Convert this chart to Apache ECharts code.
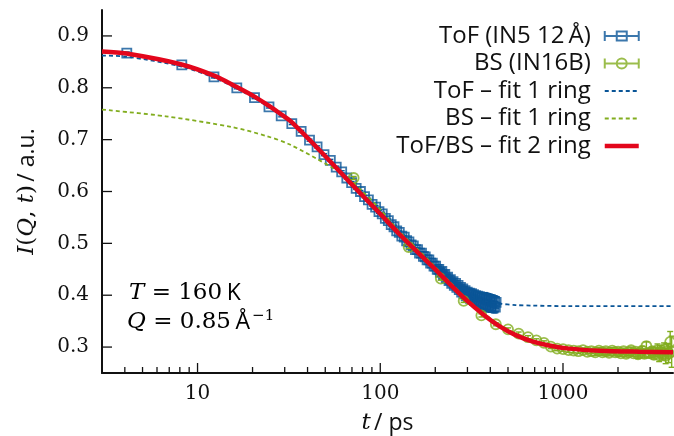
<!DOCTYPE html>
<html><head><meta charset="utf-8">
<script src="https://cdn.jsdelivr.net/npm/echarts@6/dist/echarts.min.js"></script>
<style>html,body{margin:0;padding:0;background:#fff}#c{width:674px;height:436px}</style>
</head><body><div id="c"></div>
<script>
// ---- data ----
const tofT = [4.1,8.2,12.3,16.4,20.5,24.6,28.7,32.8,36.9,41.0,45.1,49.2,53.3,57.4,61.5,65.6,69.7,73.8,77.9,82.0,
86.1,90.2,94.3,98.4,102.5,106.6,110.7,114.8,118.9,123.0,127.1,131.2,135.3,139.4,143.5,147.6,151.7,155.8,159.9,164.0,
168.1,172.2,176.3,180.4,184.5,188.6,192.7,196.8,200.9,205.0,209.1,213.2,217.3,221.4,225.5,229.6,233.7,237.8,241.9,246.0,
250.1,254.2,258.3,262.4,266.5,270.6,274.7,278.8,282.9,287.0,291.1,295.2,299.3,303.4,307.5,311.6,315.7,319.8,323.9,328.0,
332.1,336.2,340.3,344.4,348.5,352.6,356.7,360.8,364.9,369.0,373.1,377.2,381.3,385.4,389.5,393.6,397.7,401.8,405.9,410.0,
414.1,418.2,422.3,426.4,430.5];
const tofI = [0.867,0.844,0.821,0.800,0.781,0.763,0.746,0.731,0.716,0.699,0.686,0.671,0.660,0.647,0.638,0.626,0.617,0.606,0.600,0.590,
0.584,0.575,0.570,0.561,0.557,0.548,0.544,0.536,0.532,0.524,0.521,0.514,0.512,0.505,0.503,0.497,0.495,0.488,0.488,0.481,
0.481,0.475,0.474,0.468,0.468,0.462,0.462,0.456,0.456,0.450,0.450,0.444,0.446,0.439,0.440,0.433,0.435,0.428,0.430,0.423,
0.426,0.419,0.423,0.415,0.419,0.411,0.415,0.406,0.412,0.403,0.409,0.399,0.406,0.396,0.404,0.394,0.403,0.392,0.401,0.390,
0.399,0.388,0.398,0.386,0.397,0.384,0.396,0.382,0.395,0.381,0.394,0.380,0.393,0.379,0.392,0.379,0.391,0.378,0.390,0.378,
0.389,0.377,0.388,0.377,0.386];
const tofErr = [0.002,0.002,0.002,0.002,0.002,0.002,0.002,0.002,0.002,0.002,0.002,0.002,0.002,0.002,0.002,0.002,0.002,0.002,0.002,0.002,
0.003,0.003,0.003,0.003,0.003,0.003,0.003,0.003,0.003,0.003,0.003,0.003,0.003,0.003,0.003,0.003,0.003,0.003,0.003,0.003,
0.003,0.003,0.003,0.003,0.003,0.003,0.003,0.003,0.003,0.003,0.005,0.005,0.005,0.005,0.005,0.005,0.005,0.005,0.005,0.005,
0.005,0.005,0.005,0.005,0.005,0.005,0.005,0.005,0.005,0.005,0.008,0.008,0.008,0.008,0.008,0.008,0.008,0.008,0.008,0.008,
0.008,0.008,0.008,0.008,0.008,0.008,0.008,0.008,0.008,0.008,0.011,0.011,0.011,0.011,0.011,0.011,0.011,0.011,0.011,0.011,
0.011,0.011,0.011,0.011,0.011];

const bsT = [71.5,143,214.5,286,357.5,429,500.5,572,643.5,715,786.5,858,929.5,1001,1072.5,1144,1215.5,1287,1358.5,1430,
1501.5,1573,1644.5,1716,1787.5,1859,1930.5,2002,2073.5,2145,2216.5,2288,2359.5,2431,2502.5,2574,2645.5,2717,2788.5,2860,
2931.5,3003,3074.5,3146,3217.5,3289,3360.5,3432,3503.5,3575,3646.5,3718,3789.5,3861,3932.5];
const bsI = [0.626,0.493,0.432,0.389,0.361,0.344,0.334,0.326,0.319,0.313,0.308,0.301,0.297,0.296,0.294,0.293,0.292,0.294,0.291,0.292,
0.290,0.293,0.290,0.292,0.289,0.293,0.290,0.291,0.288,0.292,0.287,0.290,0.294,0.288,0.291,0.286,0.289,0.293,0.287,0.302,
0.289,0.288,0.292,0.285,0.290,0.294,0.284,0.291,0.287,0.296,0.283,0.292,0.288,0.310,0.291];
const bsErr = [0.003,0.003,0.003,0.003,0.003,0.003,0.003,0.003,0.003,0.003,0.004,0.004,0.004,0.004,0.004,0.004,0.004,0.004,0.004,0.004,
0.006,0.006,0.006,0.006,0.006,0.006,0.006,0.006,0.006,0.006,0.006,0.006,0.006,0.006,0.006,0.008,0.008,0.008,0.008,0.008,
0.008,0.008,0.008,0.008,0.008,0.012,0.012,0.012,0.012,0.012,0.015,0.015,0.018,0.020,0.030];

const fitTofT = [3,4.09,8.18,12.4,16.3,20.5,24.4,28.4,32.2,46.4,67.6,98.6,127,163,192,238,295,366,446,551,678,1078,2000,4000];
const fitTofI = [0.862,0.860,0.841,0.819,0.799,0.780,0.763,0.747,0.734,0.680,0.621,0.562,0.520,0.484,0.462,0.430,0.404,0.390,0.384,0.381,0.380,0.379,0.379,0.379];

const fitBsT = [3,6.7,15.5,23.8,31.8,54.7,67.6,80,98.6,127,163,192,238,295,366,446,551,678,839,1078,1585,2616,4000];
const fitBsI = [0.758,0.745,0.724,0.707,0.691,0.646,0.624,0.600,0.568,0.523,0.486,0.461,0.427,0.394,0.366,0.344,0.326,0.313,0.304,0.297,0.292,0.289,0.288];

const fit2T = [3,4.09,8.18,12.4,16.3,20.5,24.4,28.4,32.2,46.4,67.6,98.6,127,163,192,238,295,366,446,551,678,839,1078,1585,2616,4000];
const fit2I = [0.870,0.866,0.845,0.823,0.802,0.783,0.766,0.750,0.736,0.680,0.619,0.559,0.518,0.480,0.456,0.423,0.391,0.363,0.341,0.323,0.311,0.303,0.297,0.293,0.291,0.290];

const xMajorTicks = [10,100,1000];
const xMinorTicks = [3,4,5,6,7,8,9,20,30,40,50,60,70,80,90,200,300,400,500,600,700,800,900,2000,3000];
const yTicks = [0.3,0.4,0.5,0.6,0.7,0.8,0.9];

// ---- styling ----
const BLUE = '#0a5597', GREEN = '#82ad1f', RED = '#e3061c', INK = '#111';
const SERIF = 'DejaVu Serif', SANS = 'Open Sans';
const zip = (a, b, c) => a.map((v, i) => c ? [v, b[i], c[i]] : [v, b[i]]);

function errRender(color) {
  return function (params, api) {
    const t = api.value(0), v = api.value(1), e = api.value(2);
    const a = api.coord([t, v + e]), b = api.coord([t, v - e]);
    const st = { stroke: color, lineWidth: 1.4 };
    return { type: 'group', children: [
      { type: 'line', shape: { x1: a[0], y1: a[1], x2: b[0], y2: b[1] }, style: st },
      { type: 'line', shape: { x1: a[0] - 3, y1: a[1], x2: a[0] + 3, y2: a[1] }, style: st },
      { type: 'line', shape: { x1: b[0] - 3, y1: b[1], x2: b[0] + 3, y2: b[1] }, style: st }
    ]};
  };
}
function xTickRender(len) {
  return function (params, api) {
    const p = api.coord([api.value(0), 0.25]);
    return { type: 'line', shape: { x1: p[0], y1: p[1], x2: p[0], y2: p[1] - len }, style: { stroke: INK, lineWidth: 1.3 } };
  };
}
function yTickRender(params, api) {
  const p = api.coord([3, api.value(0)]);
  return { type: 'line', shape: { x1: p[0], y1: p[1], x2: p[0] + 10, y2: p[1] }, style: { stroke: INK, lineWidth: 1.3 } };
}

const chart = echarts.init(document.getElementById('c'), null, { renderer: 'canvas' });
const richName = {
  it: { fontFamily: SERIF, fontStyle: 'italic', fontSize: 23, color: INK },
  rm: { fontFamily: SERIF, fontSize: 23, color: INK },
  sf: { fontFamily: SANS, fontSize: 23, color: INK }
};
const hiddenDot = { color: 'rgba(0,0,0,0)', borderColor: 'rgba(0,0,0,0)', borderWidth: 0, opacity: 0 };
chart.setOption({
  animation: false,
  backgroundColor: '#fff',
  grid: { left: 102, right: 1, top: 10, bottom: 63, containLabel: false, outerBoundsMode: 'none' },
  xAxis: {
    type: 'log', logBase: 10, min: 3, max: 4000,
    axisLine: { lineStyle: { color: INK, width: 2 } },
    axisTick: { show: false }, splitLine: { show: false }, minorTick: { show: false },
    axisLabel: {
      fontFamily: SERIF, fontSize: 20, color: INK, margin: 11,
      showMinLabel: true, showMaxLabel: true,
      formatter: v => (xMajorTicks.indexOf(Math.round(v)) >= 0 ? String(Math.round(v)) : '')
    },
    name: '{it|t} {sf|/ ps}', nameLocation: 'middle', nameGap: 39,
    nameTextStyle: { rich: richName }
  },
  yAxis: {
    type: 'value', min: 0.25, max: 0.95, interval: 0.05,
    axisLine: { show: true, lineStyle: { color: INK, width: 2 } },
    axisTick: { show: false }, splitLine: { show: false },
    axisLabel: {
      fontFamily: SERIF, fontSize: 20, color: INK, margin: 13,
      formatter: v => { const r = Math.round(v * 100); return (r % 10 === 0 && r >= 30 && r <= 90) ? (r / 100).toFixed(1) : ''; }
    },
    name: '{it|I}{rm|(}{it|Q}{rm|, }{it|t}{rm|)} {sf|/ a.u.}', nameLocation: 'middle', nameRotate: 90, nameGap: 63,
    nameTextStyle: { rich: richName }
  },
  legend: {
    orient: 'vertical', right: 28, top: 19, align: 'right',
    itemWidth: 34, itemHeight: 12, itemGap: 3.5,
    formatter: name => '{a|' + name + '}{g|}',
    textStyle: { fontFamily: SANS, fontSize: 24, color: INK, lineHeight: 24,
      rich: { a: { fontFamily: SANS, fontSize: 24, color: INK, lineHeight: 24 }, g: { width: 9 } } },
    data: [
      { name: 'ToF (IN5 12\u2009Å)', icon: 'path://M0,6L34,6M0,1L0,11M34,1L34,11M12,1.5L22,1.5L22,10.5L12,10.5Z',
        itemStyle: { color: 'rgba(0,0,0,0)', borderColor: BLUE, borderWidth: 2 } },
      { name: 'BS (IN16B)', icon: 'path://M0,6L34,6M0,1L0,11M34,1L34,11M22,6A5,5,0,1,1,12,6A5,5,0,1,1,22,6Z',
        itemStyle: { color: 'rgba(0,0,0,0)', borderColor: GREEN, borderWidth: 2 } },
      { name: 'ToF – fit 1 ring', itemStyle: hiddenDot, lineStyle: { color: BLUE, width: 1.8, type: [4, 3] } },
      { name: 'BS – fit 1 ring', itemStyle: hiddenDot, lineStyle: { color: GREEN, width: 1.8, type: [4, 3] } },
      { name: 'ToF/BS – fit 2 ring', itemStyle: hiddenDot, lineStyle: { color: RED, width: 4.5 } }
    ]
  },
  graphic: [
    { type: 'text', x: 129, y: 293, style: {
        text: '{it|T}{rm| = 160\u2009}{sf|K}', verticalAlign: 'middle',
        rich: { it: { fontFamily: SERIF, fontStyle: 'italic', fontSize: 23, color: INK, lineHeight: 26 },
                rm: { fontFamily: SERIF, fontSize: 23, color: INK, lineHeight: 26 },
                sf: { fontFamily: SANS, fontSize: 23, color: INK, lineHeight: 26 } } } },
    { type: 'text', x: 127, y: 322, style: {
        text: '{it|Q}{rm| = 0.85\u2009}{sf|Å}{sup|\u22121}', verticalAlign: 'middle',
        rich: { it: { fontFamily: SERIF, fontStyle: 'italic', fontSize: 23, color: INK, lineHeight: 26 },
                rm: { fontFamily: SERIF, fontSize: 23, color: INK, lineHeight: 26 },
                sf: { fontFamily: SANS, fontSize: 23, color: INK, lineHeight: 26 },
                sup: { fontFamily: SERIF, fontSize: 15, color: INK, lineHeight: 15, verticalAlign: 'top', padding: [0, 0, 0, 2] } } } }
  ],
  series: [
    { type: 'custom', name: 'tofErr', silent: true, renderItem: errRender(BLUE), data: zip(tofT, tofI, tofErr), z: 2 },
    { type: 'scatter', name: 'ToF (IN5 12\u2009Å)', data: zip(tofT, tofI), symbol: 'rect', symbolSize: 9,
      itemStyle: { color: 'rgba(0,0,0,0)', borderColor: BLUE, borderWidth: 1.8 }, z: 3 },
    { type: 'custom', name: 'bsErr', silent: true, renderItem: errRender(GREEN), data: zip(bsT, bsI, bsErr), z: 4 },
    { type: 'scatter', name: 'BS (IN16B)', data: zip(bsT, bsI), symbol: 'circle', symbolSize: 10,
      itemStyle: { color: 'rgba(0,0,0,0)', borderColor: GREEN, borderWidth: 1.8 }, z: 5 },
    { type: 'line', name: 'ToF – fit 1 ring', data: zip(fitTofT, fitTofI), smooth: 0.3, showSymbol: false, symbol: 'none',
      lineStyle: { color: BLUE, width: 1.8, type: [4, 3] }, itemStyle: { color: BLUE }, z: 6 },
    { type: 'line', name: 'BS – fit 1 ring', data: zip(fitBsT, fitBsI), smooth: 0.3, showSymbol: false, symbol: 'none',
      lineStyle: { color: GREEN, width: 1.8, type: [4, 3] }, itemStyle: { color: GREEN }, z: 6 },
    { type: 'line', name: 'ToF/BS – fit 2 ring', data: zip(fit2T, fit2I), smooth: 0.3, showSymbol: false, symbol: 'none',
      lineStyle: { color: RED, width: 4.5 }, itemStyle: { color: RED }, z: 7 },
    { type: 'custom', name: 'xMajor', silent: true, renderItem: xTickRender(10), data: xMajorTicks.map(v => [v]), z: 8 },
    { type: 'custom', name: 'xMinor', silent: true, renderItem: xTickRender(6), data: xMinorTicks.map(v => [v]), z: 8 },
    { type: 'custom', name: 'yTicks', silent: true, renderItem: yTickRender, data: yTicks.map(v => [v]), encode: { y: 0 }, z: 8 }
  ]
});
</script></body></html>
